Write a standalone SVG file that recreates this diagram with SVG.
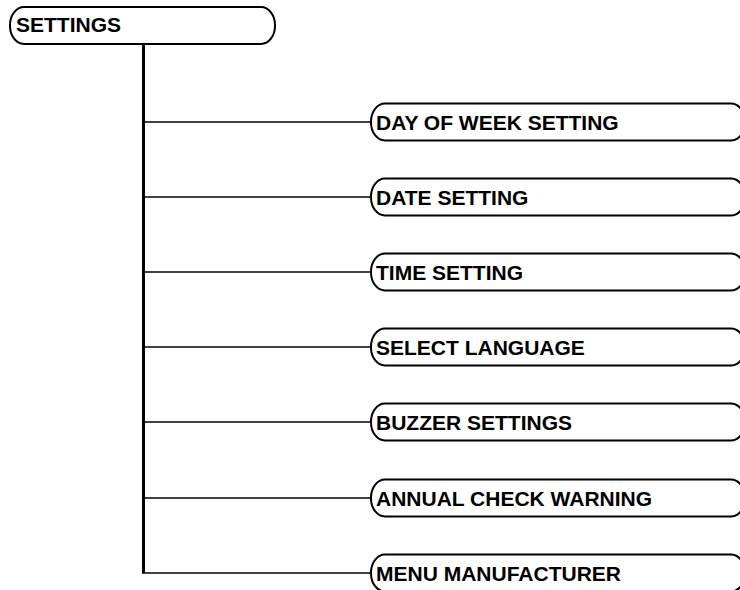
<svg xmlns="http://www.w3.org/2000/svg" width="740" height="590" viewBox="0 0 740 590">
<style>
.box{fill:#fff;stroke:#000;stroke-width:2}
.t{font-family:"Liberation Sans",Arial,sans-serif;font-weight:bold;font-size:21px;fill:#000}
.br{stroke:#000;stroke-width:1.6;fill:none}
.trunk{stroke:#000;stroke-width:3;fill:none}
</style>
<rect width="740" height="590" fill="#fff"/>
<g id="connectors">
<path class="trunk" d="M143.5,44 V573"/>
<path class="br" d="M143.5,122 H371"/>
<path class="br" d="M143.5,197 H371"/>
<path class="br" d="M143.5,272 H371"/>
<path class="br" d="M143.5,347 H371"/>
<path class="br" d="M143.5,422 H371"/>
<path class="br" d="M143.5,498 H371"/>
<path class="br" d="M142,573 H371"/>
</g>
<g id="settings">
<rect class="box" x="10" y="7" width="265" height="37" rx="14" ry="18"/>
<text class="t" x="16" y="32">SETTINGS</text>
</g>
<g id="day-of-week">
<rect class="box" x="371" y="103.5" width="374" height="37" rx="14" ry="18"/>
<text class="t" x="376" y="129.5">DAY OF WEEK SETTING</text>
</g>
<g id="date">
<rect class="box" x="371" y="178.5" width="374" height="37" rx="14" ry="18"/>
<text class="t" x="376" y="204.5">DATE SETTING</text>
</g>
<g id="time">
<rect class="box" x="371" y="253.5" width="374" height="37" rx="14" ry="18"/>
<text class="t" x="376" y="279.5">TIME SETTING</text>
</g>
<g id="language">
<rect class="box" x="371" y="328.5" width="374" height="37" rx="14" ry="18"/>
<text class="t" x="376" y="354.5">SELECT LANGUAGE</text>
</g>
<g id="buzzer">
<rect class="box" x="371" y="403.5" width="374" height="37" rx="14" ry="18"/>
<text class="t" x="376" y="429.5">BUZZER SETTINGS</text>
</g>
<g id="annual">
<rect class="box" x="371" y="479.5" width="374" height="37" rx="14" ry="18"/>
<text class="t" x="376" y="505.5">ANNUAL CHECK WARNING</text>
</g>
<g id="manufacturer">
<rect class="box" x="371" y="554.5" width="374" height="37" rx="14" ry="18"/>
<text class="t" x="376" y="580.5">MENU MANUFACTURER</text>
</g>
</svg>
